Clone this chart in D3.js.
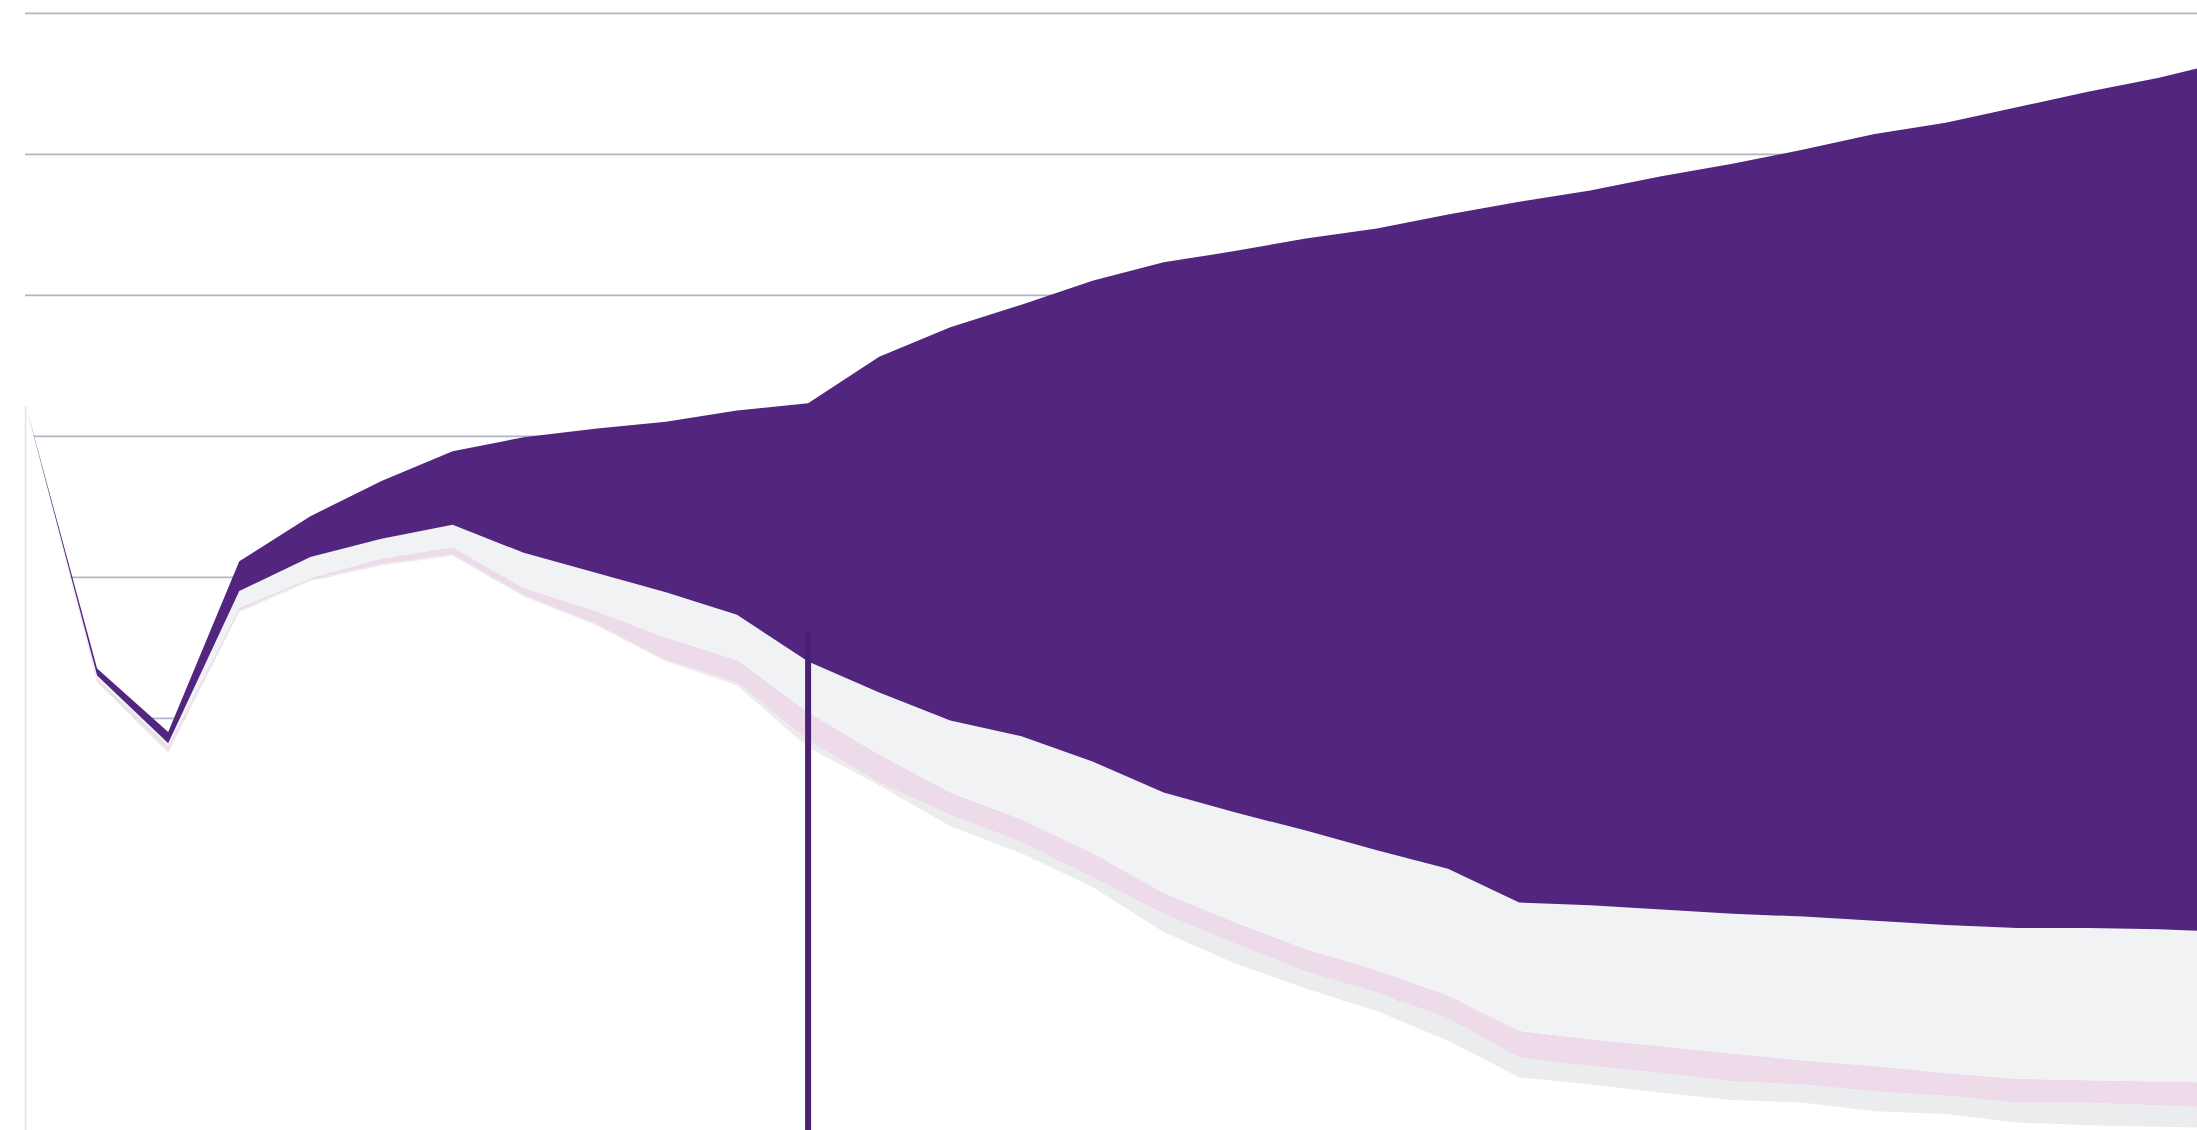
<!DOCTYPE html>
<html>
<head>
<meta charset="utf-8">
<script src="https://cdn.jsdelivr.net/npm/d3@7"></script>
<style>
  html, body { margin: 0; padding: 0; background: #ffffff; }
  svg { display: block; }
</style>
</head>
<body>
<svg id="chart" width="2197" height="1130"></svg>
<script>
// ---- data ----
const categories = [
  "2019 Q4","2020 Q1","2020 Q2","2020 Q3","2020 Q4","2021 Q1","2021 Q2","2021 Q3",
  "2021 Q4","2022 Q1","2022 Q2","2022 Q3","2022 Q4","2023 Q1","2023 Q2","2023 Q3",
  "2023 Q4","2024 Q1","2024 Q2","2024 Q3","2024 Q4","2025 Q1","2025 Q2","2025 Q3",
  "2025 Q4","2026 Q1","2026 Q2","2026 Q3","2026 Q4","2027 Q1","2027 Q2","2027 Q3"
];
// upper edge of the outer (purple) band
const upper90 = [3.21,1.35,0.90,2.11,2.43,2.68,2.89,2.99,3.05,3.10,3.18,3.23,3.56,3.77,3.93,4.10,
                 4.23,4.31,4.40,4.47,4.57,4.66,4.74,4.84,4.93,5.03,5.14,5.22,5.33,5.44,5.54,5.66];
// lower edge of purple band / upper edge of light grey band
const upper70 = [3.21,1.30,0.82,1.90,2.14,2.27,2.37,2.17,2.03,1.89,1.73,1.40,1.18,0.98,0.87,0.69,
                 0.47,0.33,0.20,0.06,-0.07,-0.31,-0.33,-0.36,-0.39,-0.41,-0.44,-0.47,-0.49,-0.49,-0.50,-0.52];
// lower edge of light grey band / upper edge of pink band
const central = [3.21,1.28,0.80,1.78,1.99,2.13,2.21,1.92,1.76,1.57,1.41,1.04,0.74,0.47,0.28,0.04,
                 -0.24,-0.45,-0.64,-0.79,-0.97,-1.22,-1.28,-1.33,-1.38,-1.43,-1.47,-1.52,-1.56,-1.57,-1.58,-1.59];
// lower edge of pink band / upper edge of grey band
const lower70 = [3.21,1.26,0.77,1.76,1.98,2.09,2.16,1.87,1.67,1.41,1.25,0.84,0.54,0.31,0.12,-0.13,
                 -0.39,-0.60,-0.80,-0.95,-1.13,-1.41,-1.47,-1.52,-1.58,-1.60,-1.65,-1.68,-1.73,-1.73,-1.75,-1.77];
// lower edge of grey band
const lower90 = [3.21,1.25,0.75,1.75,1.97,2.08,2.15,1.86,1.66,1.40,1.23,0.79,0.52,0.23,0.04,-0.20,
                 -0.52,-0.74,-0.92,-1.08,-1.29,-1.55,-1.60,-1.66,-1.71,-1.73,-1.79,-1.81,-1.87,-1.89,-1.90,-1.91];
const gridValues = [6,5,4,3,2,1,0,-1];
const markerCategory = "2022 Q3";

// ---- layout ----
const W = 2197, H = 1130;
const svg = d3.select("#chart");

const x = d3.scalePoint().domain(categories).range([26, 2230.1]);
const y = d3.scaleLinear().domain([6, -2]).range([12.8, 12.8 + 8 * 141]);

// gridlines
const grid = svg.append("g")
  .attr("transform", "translate(25,0)")
  .call(d3.axisLeft(y).tickValues(gridValues).tickSize(-(W - 25)).tickFormat(""));
grid.select(".domain").remove();
grid.selectAll(".tick line").attr("stroke", "#b2b8c3").attr("stroke-width", 1.8);

const rows = categories.map((c, i) => ({
  cat: c, u90: upper90[i], u70: upper70[i], mid: central[i], l70: lower70[i], l90: lower90[i]
}));

function band(lo, hi) {
  return d3.area()
    .x(d => x(d.cat))
    .y0(d => (lo === null ? H + 10 : y(d[lo])))
    .y1(d => y(d[hi]));
}

// white area below the fan hides the gridlines
svg.append("path").datum(rows).attr("d", band(null, "l90")).attr("fill", "#ffffff");
// left edge line
svg.append("line")
  .attr("x1", 25.5).attr("x2", 25.5)
  .attr("y1", y(lower90[0])).attr("y2", H)
  .attr("stroke", "#e4e4ea").attr("stroke-width", 1.5);

const layers = [
  { lo: "l90", hi: "l70", fill: "#ebecee" },
  { lo: "l70", hi: "mid", fill: "#eedbea" },
  { lo: "mid", hi: "u70", fill: "#f1f2f4" },
  { lo: "u70", hi: "u90", fill: "#52267f" }
];
layers.forEach(l => {
  svg.append("path").datum(rows).attr("d", band(l.lo, l.hi)).attr("fill", l.fill);
});

// vertical marker line
const mx = x(markerCategory);
const mi = categories.indexOf(markerCategory);
svg.append("line")
  .attr("x1", mx).attr("x2", mx)
  .attr("y1", y(upper70[mi]) - 30).attr("y2", H)
  .attr("stroke", "#4a2074").attr("stroke-width", 6);
</script>
</body>
</html>
